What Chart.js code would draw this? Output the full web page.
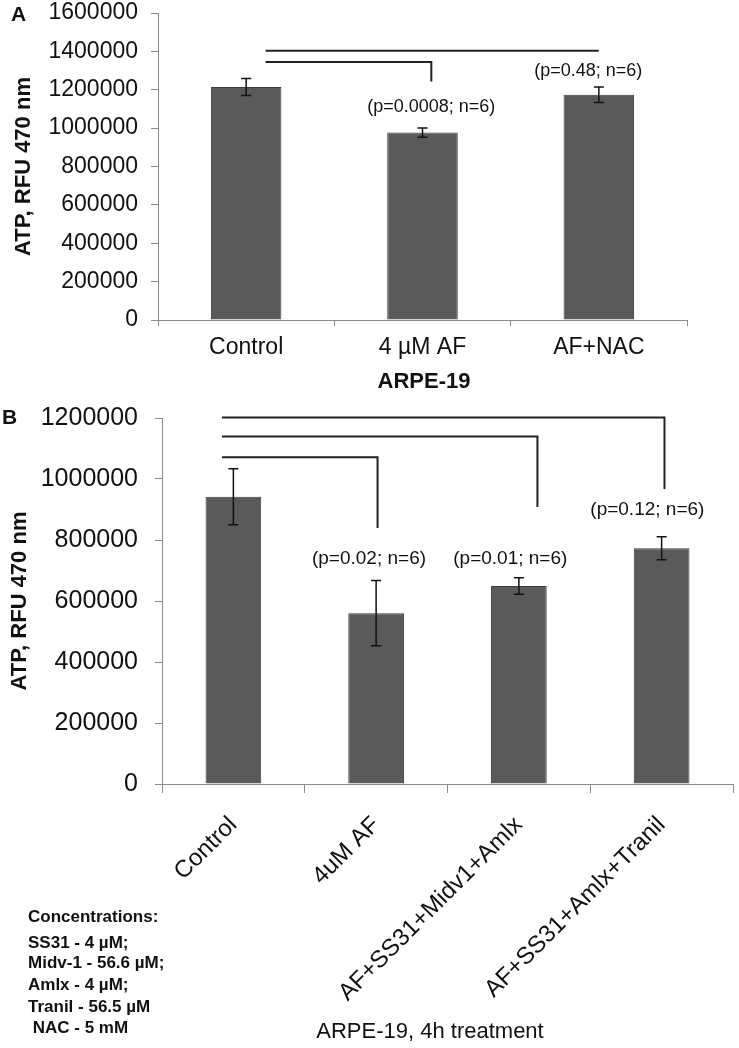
<!DOCTYPE html>
<html>
<head>
<meta charset="utf-8">
<script src="https://cdn.jsdelivr.net/npm/chart.js@4.4.1/dist/chart.umd.min.js"></script>
<style>
body { margin: 0; background: #fff; width: 739px; height: 1048px; position: relative; overflow: hidden; }
canvas { position: absolute; left: 0; }
#chartA { top: 0; }
#chartB { top: 400px; }
</style>
</head>
<body>
<canvas id="chartA" width="739" height="420"></canvas>
<canvas id="chartB" width="739" height="648"></canvas>
<script>
const labelsA = ['Control', '4 µM AF', 'AF+NAC'];
const valuesA = [1214000, 977000, 1174000];
const errorsA = [44000, 24000, 40000];
const bracketsA = [
  { from: 0.11, to: 2.0, level: 1403000, drop: null },
  { from: 0.11, to: 1.05, level: 1344000, drop: 1243000 }
];
const pTextsA = [
  { text: '(p=0.0008; n=6)', x: 1.05, y: 1111000 },
  { text: '(p=0.48; n=6)', x: 1.94, y: 1295000 }
];

const labelsB = ['Control', '4uM AF', 'AF+SS31+Midv1+Amlx', 'AF+SS31+Amlx+Tranil'];
const valuesB = [942000, 560000, 649000, 773000];
const errorsB = [92000, 107000, 27000, 38000];
const bracketsB = [
  { from: -0.08, to: 3.02, level: 1202000, drop: 967000 },
  { from: -0.08, to: 2.13, level: 1139000, drop: 908000 },
  { from: -0.08, to: 1.01, level: 1071000, drop: 839000 }
];
const pTextsB = [
  { text: '(p=0.02; n=6)', x: 0.95, y: 738000 },
  { text: '(p=0.01; n=6)', x: 1.94, y: 738000 },
  { text: '(p=0.12; n=6)', x: 2.9, y: 898000 }
];

const concentrations = ['Concentrations:', 'SS31 - 4 µM;', 'Midv-1 - 56.6 µM;', 'Amlx - 4 µM;', 'Tranil - 56.5 µM', ' NAC - 5 mM'];

const SANS = '"Liberation Sans", Arial, sans-serif';
const AXIS = '#8a8a8a';

function extras(errors, brackets, pTexts, pFont, draw) {
  return {
    id: 'extras',
    afterDatasetsDraw(chart) {
      const ctx = chart.ctx;
      const xs = chart.scales.x, ys = chart.scales.y;
      const meta = chart.getDatasetMeta(0);
      const vals = chart.data.datasets[0].data;
      ctx.save();
      ctx.strokeStyle = '#111';
      ctx.lineWidth = 1.5;
      meta.data.forEach((bar, i) => {
        const t = ys.getPixelForValue(vals[i] + errors[i]);
        const b = ys.getPixelForValue(vals[i] - errors[i]);
        ctx.beginPath();
        ctx.moveTo(bar.x, t); ctx.lineTo(bar.x, b);
        ctx.moveTo(bar.x - 5, t); ctx.lineTo(bar.x + 5, t);
        ctx.moveTo(bar.x - 5, b); ctx.lineTo(bar.x + 5, b);
        ctx.stroke();
      });
      ctx.strokeStyle = '#222';
      ctx.lineWidth = 2;
      brackets.forEach(br => {
        const x1 = xs.getPixelForValue(br.from), x2 = xs.getPixelForValue(br.to);
        const y = ys.getPixelForValue(br.level);
        ctx.beginPath();
        ctx.moveTo(x1, y); ctx.lineTo(x2, y);
        if (br.drop !== null) ctx.lineTo(x2, ys.getPixelForValue(br.drop));
        ctx.stroke();
      });
      ctx.fillStyle = '#111';
      ctx.font = pFont;
      ctx.textAlign = 'center';
      ctx.textBaseline = 'middle';
      pTexts.forEach(p => ctx.fillText(p.text, xs.getPixelForValue(p.x), ys.getPixelForValue(p.y)));
      draw(ctx, chart);
      ctx.restore();
    }
  };
}

function makeChart(id, labels, values, cfg) {
  return new Chart(document.getElementById(id), {
    type: 'bar',
    data: {
      labels: labels,
      datasets: [{
        data: values,
        backgroundColor: '#5a5a5a',
        borderColor: '#3c3c3c',
        borderWidth: 1,
        categoryPercentage: 1,
        barPercentage: cfg.barPct
      }]
    },
    options: {
      responsive: false,
      animation: false,
      devicePixelRatio: 1,
      layout: { padding: cfg.padding },
      plugins: { legend: { display: false }, tooltip: { enabled: false } },
      scales: {
        x: {
          afterFit: s => { s.height = cfg.xHeight; },
          grid: { offset: true, drawOnChartArea: false, drawTicks: true, tickLength: cfg.xTick, color: AXIS },
          border: { color: AXIS, width: 1 },
          ticks: {
            color: '#111', font: cfg.xFont, padding: cfg.xPad,
            minRotation: cfg.rot, maxRotation: cfg.rot, autoSkip: false
          }
        },
        y: {
          min: 0, max: cfg.max,
          afterFit: s => { s.width = cfg.yWidth; s.paddingTop = 0; s.paddingBottom = 0; },
          grid: { drawOnChartArea: false, drawTicks: true, tickLength: 7, color: AXIS },
          border: { color: AXIS, width: 1 },
          ticks: { stepSize: 200000, color: '#111', font: cfg.yFont, padding: cfg.yPad, callback: v => String(v) }
        }
      }
    },
    plugins: [cfg.plugin]
  });
}

function yTitle(ctx, x, y, size) {
  ctx.save();
  ctx.translate(x, y);
  ctx.rotate(-Math.PI / 2);
  ctx.font = 'bold ' + size + 'px ' + SANS;
  ctx.textAlign = 'center';
  ctx.textBaseline = 'middle';
  ctx.fillText('ATP, RFU 470 nm', 0, 0);
  ctx.restore();
}

makeChart('chartA', labelsA, valuesA, {
  barPct: 0.4, max: 1600000,
  padding: { left: 0, right: 52, top: 13, bottom: 0 },
  xHeight: 100, yWidth: 158, xTick: 6, xPad: 8, yPad: 13, rot: 0,
  xFont: { family: SANS, size: 23 },
  yFont: { family: SANS, size: 23 },
  plugin: extras(errorsA, bracketsA, pTextsA, '18px ' + SANS, (ctx, chart) => {
    const a = chart.chartArea;
    ctx.font = 'bold 21px ' + SANS;
    ctx.textAlign = 'left';
    ctx.fillText('A', 11, 15);
    yTitle(ctx, 24, (a.top + a.bottom) / 2, 22);
    ctx.font = 'bold 22px ' + SANS;
    ctx.textAlign = 'center';
    ctx.fillText('ARPE-19', 424, 382);
  })
});

makeChart('chartB', labelsB, valuesB, {
  barPct: 0.39, max: 1200000,
  padding: { left: 0, right: 6, top: 18, bottom: 0 },
  xHeight: 264, yWidth: 162, xTick: 9, xPad: 18, yPad: 17, rot: 45,
  xFont: { family: SANS, size: 24 },
  yFont: { family: SANS, size: 25 },
  plugin: extras(errorsB, bracketsB, pTextsB, '19px ' + SANS, (ctx, chart) => {
    const a = chart.chartArea;
    ctx.font = 'bold 21px ' + SANS;
    ctx.textAlign = 'left';
    ctx.fillText('B', 2, 18);
    yTitle(ctx, 20, (a.top + a.bottom) / 2, 22);
    const rows = [517, 543, 563, 585, 607, 628];
    concentrations.forEach((t, i) => {
      ctx.font = 'bold 17px ' + SANS;
      ctx.fillText(t, 28, rows[i]);
    });
    ctx.font = '22px ' + SANS;
    ctx.textAlign = 'center';
    ctx.fillText('ARPE-19, 4h treatment', 430, 632);
  })
});
</script>
</body>
</html>
